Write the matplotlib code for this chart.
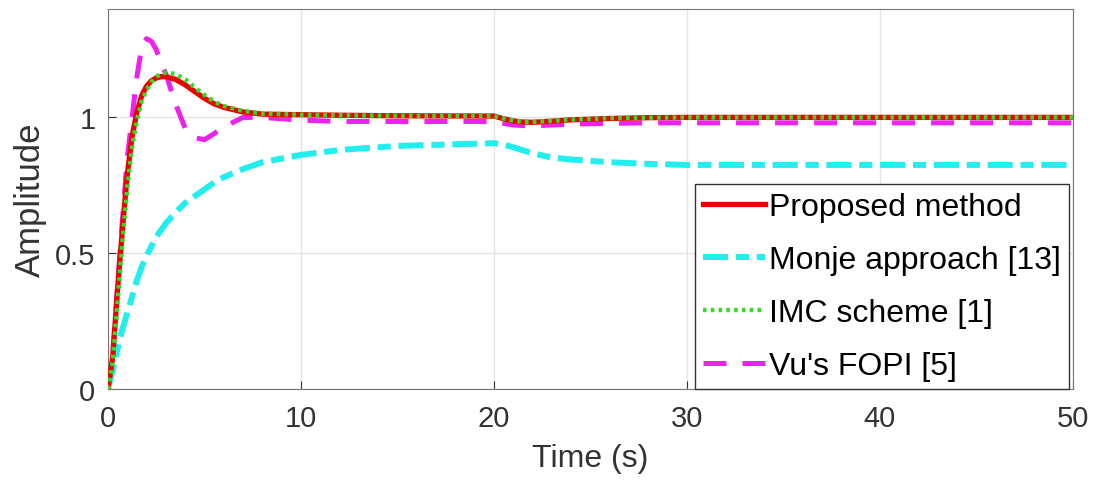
import numpy as np
import matplotlib
matplotlib.use('Agg')
import matplotlib.pyplot as plt

plt.rcParams['font.family'] = ['Liberation Sans', 'DejaVu Sans']

# Step responses (time in s)
t = [0, 0.25, 0.5, 0.75, 1.0, 1.25, 1.5, 1.75, 2.0, 2.25, 2.5, 2.75, 3.0,
     3.5, 4.0, 4.5, 5.0, 5.5, 6.0, 7.0, 8.0, 10, 12, 15, 20,
     20.5, 21, 21.5, 22, 23, 24, 26, 28, 30, 35, 40, 50]

proposed = [0, 0.12, 0.37, 0.59, 0.79, 0.93, 1.02, 1.08, 1.115, 1.135, 1.145, 1.15, 1.15,
            1.14, 1.12, 1.095, 1.07, 1.05, 1.037, 1.02, 1.012, 1.01, 1.008, 1.006, 1.005,
            0.995, 0.987, 0.983, 0.982, 0.986, 0.991, 0.996, 0.999, 1.0, 1.0, 1.0, 1.0]

monje = [0, 0.07, 0.15, 0.22, 0.28, 0.34, 0.40, 0.45, 0.49, 0.525, 0.56, 0.585, 0.61,
         0.65, 0.685, 0.71, 0.735, 0.76, 0.78, 0.81, 0.835, 0.862, 0.88, 0.895, 0.905,
         0.9, 0.89, 0.879, 0.868, 0.852, 0.845, 0.835, 0.829, 0.825, 0.825, 0.825, 0.825]

imc = [0, 0.10, 0.32, 0.54, 0.74, 0.89, 0.99, 1.06, 1.10, 1.13, 1.15, 1.16, 1.165,
       1.16, 1.14, 1.11, 1.083, 1.058, 1.042, 1.024, 1.014, 1.01, 1.008, 1.006, 1.005,
       0.996, 0.988, 0.984, 0.983, 0.987, 0.992, 0.997, 0.999, 1.0, 1.0, 1.0, 1.0]

vu_fopi = [0, 0.13, 0.38, 0.62, 0.85, 1.0, 1.15, 1.26, 1.29, 1.28, 1.25, 1.2, 1.16,
           1.05, 0.96, 0.925, 0.918, 0.94, 0.965, 1.0, 1.0, 0.99, 0.985, 0.985, 0.985,
           0.978, 0.972, 0.97, 0.969, 0.972, 0.975, 0.978, 0.98, 0.98, 0.98, 0.98, 0.98]

fig = plt.figure(figsize=(10.96, 4.89), dpi=100)
ax = fig.add_axes([0.0985, 0.2025, 0.8805, 0.7775])

ax.plot(t, vu_fopi, color='#ee22ee', linestyle=(0, (4.6, 3.2)), linewidth=3.6,
        label="Vu's FOPI [5]", zorder=2)
ax.plot(t, monje, color='#22eeee', linestyle=(0, (4.2, 1.3, 2.2, 1.3)), linewidth=4.3,
        label='Monje approach [13]', zorder=2)
ax.plot(t, proposed, color='#ee0000', linewidth=3.8, label='Proposed method', zorder=3)
ax.plot(t, imc, color='#33dd22', linestyle=(0, (0.8, 0.95)), linewidth=3.2,
        label='IMC scheme [1]', zorder=4)

ax.set_xlim(0, 50)
ax.set_ylim(0, 1.4)
ax.set_xticks([0, 10, 20, 30, 40, 50])
ax.set_yticks([0, 0.5, 1])
ax.set_yticklabels(['0', '0.5', '1'])
ax.grid(True, color='#e4e4e4', linewidth=1)
ax.set_axisbelow(True)

for s in ax.spines.values():
    s.set_color('#777777')
ax.tick_params(direction='in', colors='#333333', labelsize=21, length=6)
ax.tick_params(axis='x', pad=11)
ax.tick_params(axis='y', pad=9)
ax.set_xlabel('Time (s)', fontsize=23, color='#333333', labelpad=8)
ax.set_ylabel('Amplitude', fontsize=25, color='#333333', labelpad=6)

handles, labels = ax.get_legend_handles_labels()
order = ['Proposed method', 'Monje approach [13]', 'IMC scheme [1]', "Vu's FOPI [5]"]
hmap = dict(zip(labels, handles))
leg = ax.legend([hmap[k] for k in order], order, loc='lower right',
                bbox_to_anchor=(0.996, 0.0), fontsize=23,
                frameon=True, fancybox=False, framealpha=1, edgecolor='#333333',
                handlelength=1.95, handletextpad=0.13, labelspacing=0.72,
                borderpad=0.25, borderaxespad=0.0)
leg.get_frame().set_linewidth(1)

fig.savefig('out.png', dpi=100)
